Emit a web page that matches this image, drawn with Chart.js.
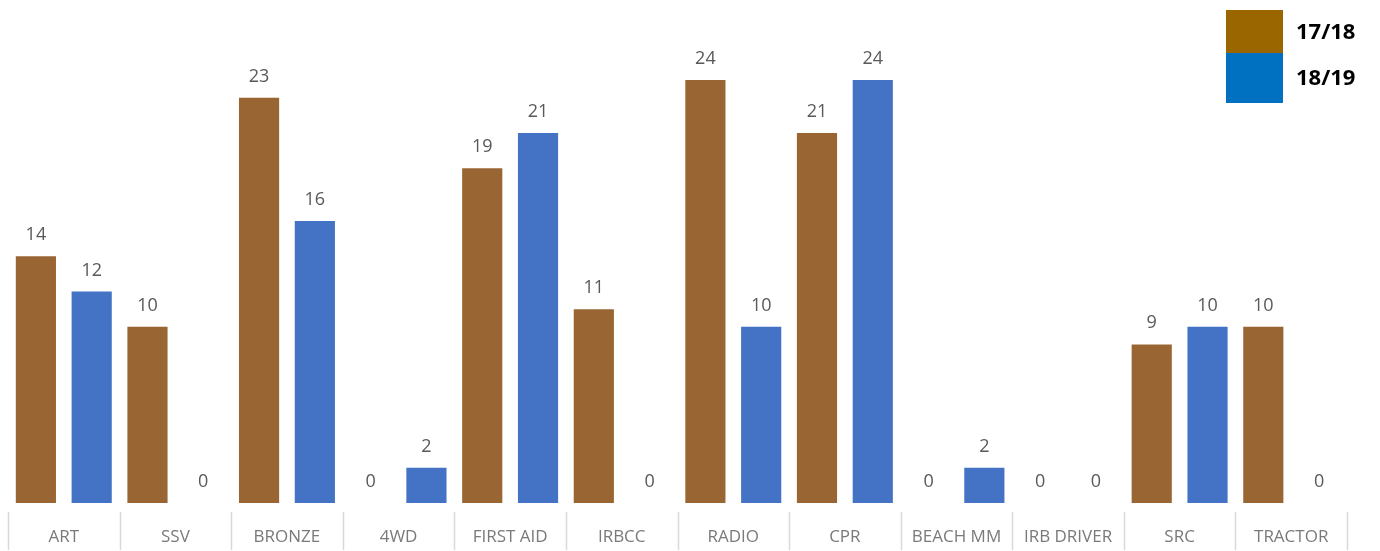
<!DOCTYPE html>
<html>
<head>
<meta charset="utf-8">
<script src="https://cdn.jsdelivr.net/npm/chart.js@4"></script>
<style>
  html, body { margin: 0; padding: 0; background: #fff; }
  #wrap { width: 1380px; height: 551px; }
</style>
</head>
<body>
<div id="wrap"><canvas id="c"></canvas></div>
<script>
const categories = ['ART', 'SSV', 'BRONZE', '4WD', 'FIRST AID', 'IRBCC', 'RADIO', 'CPR', 'BEACH MM', 'IRB DRIVER', 'SRC', 'TRACTOR'];
const season1718 = [14, 10, 23, 0, 19, 11, 24, 21, 0, 0, 9, 10];
const season1819 = [12, 0, 16, 2, 21, 0, 10, 24, 2, 0, 10, 0];
const seriesNames = ['17/18', '18/19'];

// labels over each bar, separators under the axis and the boxed legend
const extras = {
    id: 'extras',
    afterDatasetsDraw(chart) {
        const ctx = chart.ctx;
        ctx.save();
        ctx.font = '18px "Open Sans"';
        ctx.fillStyle = '#595959';
        ctx.textAlign = 'center';
        ctx.textBaseline = 'alphabetic';
        chart.data.datasets.forEach((ds, i) => {
            chart.getDatasetMeta(i).data.forEach((bar, j) => {
                ctx.fillText(ds.data[j], bar.x, bar.y - 16);
            });
        });

        const xs = chart.scales.x;
        const half = (xs.getPixelForValue(1) - xs.getPixelForValue(0)) / 2;
        ctx.strokeStyle = '#d9d9d9';
        ctx.lineWidth = 1.5;
        for (let k = 0; k <= categories.length; k++) {
            const px = Math.round(xs.getPixelForValue(k) - half) + 0.5;
            ctx.beginPath();
            ctx.moveTo(px, 512);
            ctx.lineTo(px, 550);
            ctx.stroke();
        }

        const legendColors = ['#996600', '#0070C0'];
        const boxes = [[10, 43], [53, 50]];
        ctx.font = 'bold 22px "Open Sans"';
        ctx.textAlign = 'left';
        ctx.textBaseline = 'middle';
        seriesNames.forEach((name, i) => {
            ctx.fillStyle = legendColors[i];
            ctx.fillRect(1226, boxes[i][0], 57, boxes[i][1]);
            ctx.fillStyle = '#000';
            ctx.fillText(name, 1296, boxes[i][0] + boxes[i][1] / 2 + 1);
        });
        ctx.restore();
    }
};

new Chart(document.getElementById('c'), {
    type: 'bar',
    data: {
        labels: categories,
        datasets: [
            { label: seriesNames[0], data: season1718, backgroundColor: '#996633' },
            { label: seriesNames[1], data: season1819, backgroundColor: '#4472C4' }
        ]
    },
    options: {
        responsive: true,
        maintainAspectRatio: false,
        animation: false,
        categoryPercentage: 1.0,
        barPercentage: 0.72,
        layout: { padding: { left: 8, right: 33, top: 80, bottom: 0 } },
        plugins: {
            legend: { display: false },
            tooltip: { enabled: false }
        },
        scales: {
            x: {
                grid: { display: false },
                border: { display: false },
                afterFit(scale) { scale.height = 48; },
                ticks: {
                    color: '#7a7a7a',
                    font: { family: '"Open Sans"', size: 17 },
                    padding: 16,
                    maxRotation: 0,
                    autoSkip: false
                }
            },
            y: {
                display: false,
                min: 0,
                max: 24
            }
        }
    },
    plugins: [extras]
});
</script>
</body>
</html>
